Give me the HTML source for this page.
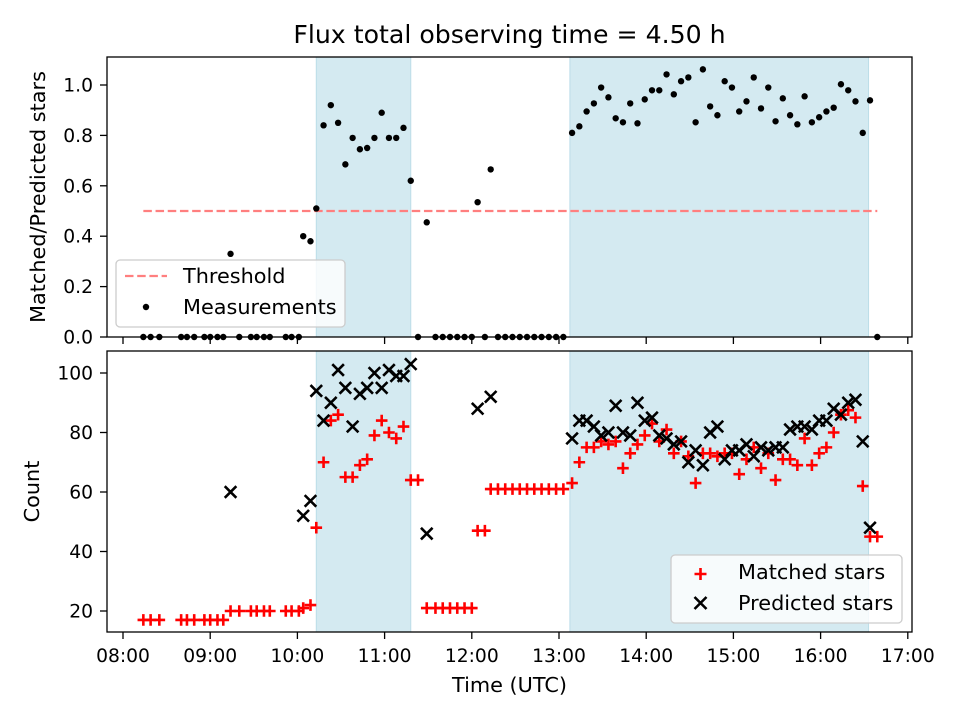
<!DOCTYPE html>
<html><head><meta charset="utf-8"><style>
body{margin:0;background:#fff}
svg{display:block;font-family:"DejaVu Sans","Liberation Sans",sans-serif}
</style></head><body>
<svg id="fig" width="960" height="720" viewBox="0 0 960 720"></svg>
<script>
// minutes after 08:00 UTC
const times = [14,19,25,40,44,49,56,60,65,69,74,80,88,92,97,101,112,116,121,124,129,
 133,138,143,148,153,158,163,168,173,178,183,188,193,198,
 203,209,215,220,225,230,235,240,244,249,253,258,263,268,273,278,283,288,293,298,303,
 309,314,319,324,329,334,339,344,349,354,359,364,369,374,379,384,389,394,399,404,409,414,419,424,429,434,439,444,449,454,459,464,469,474,479,484,489,494,499,504,509,514,519];
const matched = [17,17,17,17,17,17,17,17,17,17,20,20,20,20,20,20,20,20,20,21,22,
 48,70,84,86,65,65,69,71,79,84,80,78,82,64,
 64,21,21,21,21,21,21,21,47,47,61,61,61,61,61,61,61,61,61,61,61,
 63,70,75,75,77,76,77,68,73,76,79,83,77,81,73,77,72,63,73,73,72,73,73,66,71,75,68,73,64,71,71,69,78,69,73,75,80,86,87.5,85,62,45,45];
const predicted = [null,null,null,null,null,null,null,null,null,null,60,null,null,null,null,null,null,null,null,52,57,
 94,84,90,101,95,82,93,95,100,95,101,99,99,103,
 null,46,null,null,null,null,null,null,88,null,92,null,null,null,null,null,null,null,null,null,null,
 78,84,84,82,79,80,89,80,79,90,84,85,79,78,76,77,70,74,69,80,82,71,74,74,76,72,75,74,75,75,81,82,82,81,84,84,88,86,90,91,77,48,null];
const ratio = [0,0,0,0,0,0,0,0,0,0,0.33,0,0,0,0,0,0,0,0,0.40,0.38,
 0.51,0.84,0.92,0.85,0.685,0.79,0.745,0.75,0.79,0.89,0.79,0.79,0.83,0.62,
 0,0.455,0,0,0,0,0,0,0.535,0,0.665,0,0,0,0,0,0,0,0,0,0,
 0.81,0.836,0.895,0.927,0.99,0.951,0.868,0.852,0.927,0.848,0.943,0.979,0.979,1.042,0.963,1.015,1.03,0.852,1.062,0.915,0.88,1.015,0.99,0.895,0.935,1.03,0.907,0.99,0.856,0.947,0.88,0.844,0.955,0.852,0.872,0.895,0.91,1.003,0.979,0.935,0.81,0.939,0];
const shadeStart = [133, 307.5];
const shadeEnd = [198, 513];
const threshold = 0.5;
const xTickMinutes = [0,60,120,180,240,300,360,420,480,540];
const xTickLabels = ["08:00","09:00","10:00","11:00","12:00","13:00","14:00","15:00","16:00","17:00"];
const topTicks = [0,0.2,0.4,0.6,0.8,1.0];
const botTicks = [20,40,60,80,100];

const NS="http://www.w3.org/2000/svg";
const svg=document.getElementById('fig');
function mk(tag,attrs,parent){const e=document.createElementNS(NS,tag);for(const k in attrs)e.setAttribute(k,attrs[k]);(parent||svg).appendChild(e);return e;}
const L=107,R=912,T1=57,B1=337,T2=351,B2=632;
const FT=18.7, FL=20.8;
const xs=m=>123+m*87.2/60;
const yTop=r=>337-r*252;
const yBot=c=>611-(c-20)*2.975;

let t=mk('text',{x:509.5,y:43,'text-anchor':'middle','font-size':25.2});t.textContent='Flux total observing time = 4.50 h';



for(const [T,B,nm] of [[T1,B1,'top'],[T2,B2,'bottom']]){
  for(let i=0;i<shadeStart.length;i++){
    const r=mk('rect',{x:xs(shadeStart[i]),y:T,width:xs(shadeEnd[i])-xs(shadeStart[i]),height:B-T,fill:'#d4eaf1',stroke:'#bcdde8','stroke-width':1});
    
    
  }
}
let th=mk('line',{x1:xs(times[0]),x2:xs(times[times.length-1]),y1:yTop(threshold),y2:yTop(threshold),stroke:'#ff7f7f','stroke-width':2.3,'stroke-dasharray':'8.5,3.7'});



const gR=mk('g',{});


for(let i=0;i<times.length;i++){
  if(ratio[i]===null)continue;
  const c=mk('circle',{cx:xs(times[i]),cy:yTop(ratio[i]),r:3.2,fill:'#000'},gR);
  
  
}
const gM=mk('g',{stroke:'#ff0000','stroke-width':2.6,fill:'none'});


for(let i=0;i<times.length;i++){
  if(matched[i]===null)continue;
  const x=xs(times[i]),y=yBot(matched[i]),s=5.8;
  const p=mk('path',{d:`M${x-s},${y}H${x+s}M${x},${y-s}V${y+s}`},gM);
  
  
}
const gP=mk('g',{stroke:'#000','stroke-width':2.6,fill:'none'});


for(let i=0;i<times.length;i++){
  if(predicted[i]===null)continue;
  const x=xs(times[i]),y=yBot(predicted[i]),s=5.8;
  const p=mk('path',{d:`M${x-s},${y-s}L${x+s},${y+s}M${x-s},${y+s}L${x+s},${y-s}`},gP);
  
  
}
for(const [T,B,nm] of [[T1,B1,'top-axes-frame'],[T2,B2,'bottom-axes-frame']]){
  const r=mk('rect',{x:L,y:T,width:R-L,height:B-T,fill:'none',stroke:'#000','stroke-width':1.3});
  
  
}
for(let i=0;i<xTickMinutes.length;i++){
  const x=xs(xTickMinutes[i]);
  mk('line',{x1:x,x2:x,y1:B1,y2:B1+7,stroke:'#000','stroke-width':1.3});
  mk('line',{x1:x,x2:x,y1:B2,y2:B2+7,stroke:'#000','stroke-width':1.3});
  const tx=mk('text',{x:x,y:662,'text-anchor':'middle','font-size':FT});tx.textContent=xTickLabels[i];
  
  
}
for(const v of topTicks){
  const y=yTop(v);
  mk('line',{x1:L,x2:L-7,y1:y,y2:y,stroke:'#000','stroke-width':1.3});
  const tx=mk('text',{x:93,y:y+6.5,'text-anchor':'end','font-size':FT});tx.textContent=v.toFixed(1);
  
  
}
for(const v of botTicks){
  const y=yBot(v);
  mk('line',{x1:L,x2:L-7,y1:y,y2:y,stroke:'#000','stroke-width':1.3});
  const tx=mk('text',{x:93,y:y+6.5,'text-anchor':'end','font-size':FT});tx.textContent=String(v);
  
  
}
let yl=mk('text',{x:0,y:0,'text-anchor':'middle','font-size':FL,transform:`translate(45,${(T1+B1)/2}) rotate(-90)`});yl.textContent='Matched/Predicted stars';


let yl2=mk('text',{x:0,y:0,'text-anchor':'middle','font-size':FL,transform:`translate(39,${(T2+B2)/2}) rotate(-90)`});yl2.textContent='Count';


let xl=mk('text',{x:509.5,y:692,'text-anchor':'middle','font-size':FL});xl.textContent='Time (UTC)';



const lg1=mk('g',{});


mk('rect',{x:116,y:260,width:229,height:67,rx:4,fill:'rgba(255,255,255,0.8)',stroke:'#cccccc','stroke-width':1.3},lg1);
mk('line',{x1:125,x2:167,y1:276,y2:276,stroke:'#ff7f7f','stroke-width':2.3,'stroke-dasharray':'8.5,3.7'},lg1);
let lt=mk('text',{x:183,y:283,'font-size':FL},lg1);lt.textContent='Threshold';


mk('circle',{cx:146,cy:307,r:3.2,fill:'#000'},lg1);
let lt2=mk('text',{x:183,y:314,'font-size':FL},lg1);lt2.textContent='Measurements';



const lg2=mk('g',{});


mk('rect',{x:671,y:555,width:231,height:68,rx:4,fill:'rgba(255,255,255,0.8)',stroke:'#cccccc','stroke-width':1.3},lg2);
mk('path',{d:'M694.5,574H706.5M700.5,568V580',stroke:'#ff0000','stroke-width':2.6},lg2);
let lb=mk('text',{x:738,y:579,'font-size':FL},lg2);lb.textContent='Matched stars';


mk('path',{d:'M694.5,597L706.5,609M694.5,609L706.5,597',stroke:'#000','stroke-width':2.6},lg2);
let lb2=mk('text',{x:738,y:610,'font-size':FL},lg2);lb2.textContent='Predicted stars';


</script>
</body></html>
